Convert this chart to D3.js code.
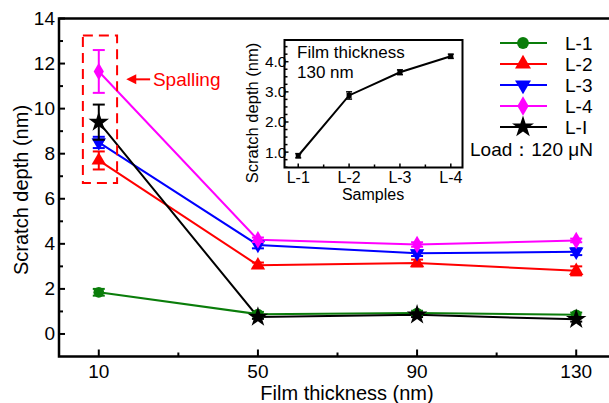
<!DOCTYPE html>
<html>
<head>
<meta charset="utf-8">
<script src="https://cdn.jsdelivr.net/npm/d3@7"></script>
<style>
  body { margin: 0; background: #fff; }
  svg { display: block; font-family: "Liberation Sans", Arial, sans-serif; }
</style>
</head>
<body>
<svg width="609" height="403"></svg>
<script>
const svg = d3.select("svg");

// data
const thickness = [10, 50, 90, 130];
const seriesNames = ["L-1", "L-2", "L-3", "L-4", "L-I"];
const L1 = [1.85, 0.88, 0.93, 0.85];
const L1err = [0.15, 0.1, 0.1, 0.1];
const L2 = [7.7, 3.05, 3.15, 2.8];
const L2err = [0.4, 0.12, 0.15, 0.2];
const L3 = [8.5, 3.95, 3.58, 3.65];
const L3err = [0.25, 0.15, 0.12, 0.15];
const L4 = [11.65, 4.18, 3.97, 4.15];
const L4err = [0.95, 0.1, 0.1, 0.08];
const LI = [9.4, 0.75, 0.85, 0.65];
const LIerr = [0.78, 0.08, 0.1, 0.1];
const xTicks = [10, 50, 90, 130];
const yTicks = [0, 2, 4, 6, 8, 10, 12, 14];

const insetSamples = ["L-1", "L-2", "L-3", "L-4"];
const insetValues = [0.88, 2.88, 3.65, 4.18];
const insetErr = [0.07, 0.12, 0.08, 0.07];
const insetYTicks = [1.0, 2.0, 3.0, 4.0];

const colors = ["#0a7d0a", "#ff0000", "#0000ff", "#ff00ff", "#000000"];
const symbols = [d3.symbolCircle, d3.symbolTriangle, "down", d3.symbolDiamond, d3.symbolStar];

const series = [L1, L2, L3, L4, LI].map((vals, i) => ({
  name: seriesNames[i],
  color: colors[i],
  sym: symbols[i],
  pts: vals.map((v, j) => ({ x: thickness[j], y: v, e: [L1err, L2err, L3err, L4err, LIerr][i][j] }))
}));

// scales
const x = d3.scaleLinear().domain([0, 140]).range([59, 616]);
const y = d3.scaleLinear().domain([-1, 14]).range([356.5, 18.5]);

function symPath(s, size) {
  if (s === "down") return d3.symbol(d3.symbolTriangle, size)();
  return d3.symbol(s, size)();
}
function symTransform(s, px, py) {
  return s === "down" ? `translate(${px},${py}) rotate(180)` : `translate(${px},${py})`;
}

// frame
svg.append("rect")
  .attr("x", x(0)).attr("y", y(14))
  .attr("width", x(140) - x(0)).attr("height", y(-1) - y(14))
  .attr("fill", "none").attr("stroke", "#000").attr("stroke-width", 2.5);

// y axis ticks (inward)
const yMinor = d3.range(1, 14, 2);
svg.selectAll(".ytick").data(yTicks).enter().append("line")
  .attr("x1", x(0)).attr("x2", x(0) + 6)
  .attr("y1", d => y(d)).attr("y2", d => y(d))
  .attr("stroke", "#000").attr("stroke-width", 2);
svg.selectAll(".ytickm").data(yMinor).enter().append("line")
  .attr("x1", x(0)).attr("x2", x(0) + 4)
  .attr("y1", d => y(d)).attr("y2", d => y(d))
  .attr("stroke", "#000").attr("stroke-width", 2);
svg.selectAll(".ylab").data(yTicks).enter().append("text")
  .attr("x", x(0) - 4).attr("y", d => y(d) + 6.5)
  .attr("text-anchor", "end").attr("font-size", 19).text(d => d);

// x axis ticks (inward)
svg.selectAll(".xtick").data(xTicks).enter().append("line")
  .attr("x1", d => x(d)).attr("x2", d => x(d))
  .attr("y1", y(-1)).attr("y2", y(-1) - 7)
  .attr("stroke", "#000").attr("stroke-width", 2);
svg.selectAll(".xtickm").data([30, 70, 110]).enter().append("line")
  .attr("x1", d => x(d)).attr("x2", d => x(d))
  .attr("y1", y(-1)).attr("y2", y(-1) - 4)
  .attr("stroke", "#000").attr("stroke-width", 2);
svg.selectAll(".xlab").data(xTicks).enter().append("text")
  .attr("x", d => x(d)).attr("y", y(-1) + 21)
  .attr("text-anchor", "middle").attr("font-size", 19).text(d => d);

// axis titles
svg.append("text")
  .attr("transform", `translate(28,${190}) rotate(-90)`)
  .attr("text-anchor", "middle").attr("font-size", 20)
  .text("Scratch depth (nm)");
svg.append("text")
  .attr("x", 347).attr("y", 400)
  .attr("text-anchor", "middle").attr("font-size", 20)
  .text("Film thickness (nm)");

// series
const line = d3.line().x(d => x(d.x)).y(d => y(d.y));
series.forEach(s => {
  svg.append("path").datum(s.pts)
    .attr("d", line).attr("fill", "none")
    .attr("stroke", s.color).attr("stroke-width", 2);
});
series.forEach(s => {
  const g = svg.append("g").attr("stroke", s.color).attr("stroke-width", 2);
  s.pts.forEach(p => {
    g.append("line").attr("x1", x(p.x)).attr("x2", x(p.x))
      .attr("y1", y(p.y - p.e)).attr("y2", y(p.y + p.e));
    [p.y - p.e, p.y + p.e].forEach(v => {
      g.append("line").attr("x1", x(p.x) - 6).attr("x2", x(p.x) + 6)
        .attr("y1", y(v)).attr("y2", y(v));
    });
  });
  svg.selectAll(null).data(s.pts).enter().append("path")
    .attr("d", symPath(s.sym, s.sym === d3.symbolStar ? 130 : 90))
    .attr("transform", d => symTransform(s.sym, x(d.x), y(d.y)))
    .attr("fill", s.color);
});

// spalling annotation
svg.append("rect")
  .attr("x", x(6)).attr("y", y(13.25))
  .attr("width", x(14.6) - x(6)).attr("height", y(6.7) - y(13.25))
  .attr("fill", "none").attr("stroke", "#ff0000").attr("stroke-width", 2)
  .attr("stroke-dasharray", "10,6");
svg.append("line")
  .attr("x1", x(16.9) + 8).attr("x2", x(22.9))
  .attr("y1", y(11.3)).attr("y2", y(11.3))
  .attr("stroke", "#ff0000").attr("stroke-width", 2);
svg.append("path")
  .attr("d", `M${x(16.9)},${y(11.3)} l10,-5 l0,10 z`)
  .attr("fill", "#ff0000");
svg.append("text")
  .attr("x", x(23.6)).attr("y", y(11.3) + 7)
  .attr("font-size", 19).attr("fill", "#ff0000").text("Spalling");

// legend
const legend = svg.append("g");
series.forEach((s, i) => {
  const ly = 43 + i * 21;
  legend.append("line").attr("x1", 500).attr("x2", 547)
    .attr("y1", ly).attr("y2", ly).attr("stroke", s.color).attr("stroke-width", 2);
  legend.append("path")
    .attr("d", symPath(s.sym, s.sym === d3.symbolStar ? 150 : 110))
    .attr("transform", symTransform(s.sym, 523, ly))
    .attr("fill", s.color);
  legend.append("text").attr("x", 565).attr("y", ly + 6.5)
    .attr("font-size", 19).text(s.name);
});
legend.append("text").attr("x", 470).attr("y", 156)
  .attr("font-size", 19).text("Load：120 μN");

// inset
const ix = d3.scaleLinear().domain([0.73, 4.23]).range([284.5, 462.5]);
const iy = d3.scaleLinear().domain([0.49, 4.72]).range([167.5, 40]);
const inset = svg.append("g");
inset.append("rect")
  .attr("x", ix(0.73)).attr("y", iy(4.72))
  .attr("width", ix(4.23) - ix(0.73)).attr("height", iy(0.49) - iy(4.72))
  .attr("fill", "#fff").attr("stroke", "#000").attr("stroke-width", 2);
const iyMinor = d3.range(0.5, 4.75, 0.25).filter(v => Math.abs(v - Math.round(v)) > 0.01);
inset.selectAll(".iyt").data(insetYTicks).enter().append("line")
  .attr("x1", ix(0.73)).attr("x2", ix(0.73) + 4)
  .attr("y1", d => iy(d)).attr("y2", d => iy(d))
  .attr("stroke", "#000").attr("stroke-width", 1.5);
inset.selectAll(".iytm").data(iyMinor).enter().append("line")
  .attr("x1", ix(0.73)).attr("x2", ix(0.73) + 3)
  .attr("y1", d => iy(d)).attr("y2", d => iy(d))
  .attr("stroke", "#000").attr("stroke-width", 1.5);
inset.selectAll(".iyl").data(insetYTicks).enter().append("text")
  .attr("x", ix(0.73) + 2).attr("y", d => iy(d) + 5.5)
  .attr("text-anchor", "end").attr("font-size", 15.5).text(d => d.toFixed(1));
inset.selectAll(".ixt").data([1, 2, 3, 4]).enter().append("line")
  .attr("x1", d => ix(d)).attr("x2", d => ix(d))
  .attr("y1", iy(0.49)).attr("y2", iy(0.49) - 4)
  .attr("stroke", "#000").attr("stroke-width", 1.5);
inset.selectAll(".ixtm").data([1.5, 2.5, 3.5]).enter().append("line")
  .attr("x1", d => ix(d)).attr("x2", d => ix(d))
  .attr("y1", iy(0.49)).attr("y2", iy(0.49) - 3)
  .attr("stroke", "#000").attr("stroke-width", 1.5);
inset.selectAll(".ixl").data(insetSamples).enter().append("text")
  .attr("x", (d, i) => ix(i + 1)).attr("y", iy(0.49) + 15)
  .attr("text-anchor", "middle").attr("font-size", 16).text(d => d);
inset.append("text").attr("x", 373).attr("y", 200)
  .attr("text-anchor", "middle").attr("font-size", 16).text("Samples");
inset.append("text")
  .attr("transform", `translate(258,113) rotate(-90)`)
  .attr("text-anchor", "middle").attr("font-size", 16.5).text("Scratch depth (nm)");
inset.append("text").attr("x", 297).attr("y", 58).attr("font-size", 17).text("Film thickness");
inset.append("text").attr("x", 297).attr("y", 78).attr("font-size", 17).text("130 nm");

const ipts = insetValues.map((v, i) => ({ i: i + 1, v, e: insetErr[i] }));
inset.append("path").datum(ipts)
  .attr("d", d3.line().x(d => ix(d.i)).y(d => iy(d.v)))
  .attr("fill", "none").attr("stroke", "#000").attr("stroke-width", 2);
ipts.forEach(p => {
  inset.append("line").attr("x1", ix(p.i)).attr("x2", ix(p.i))
    .attr("y1", iy(p.v - p.e)).attr("y2", iy(p.v + p.e))
    .attr("stroke", "#000").attr("stroke-width", 1.5);
  [p.v - p.e, p.v + p.e].forEach(v => {
    inset.append("line").attr("x1", ix(p.i) - 3).attr("x2", ix(p.i) + 3)
      .attr("y1", iy(v)).attr("y2", iy(v)).attr("stroke", "#000").attr("stroke-width", 1.5);
  });
  inset.append("rect").attr("x", ix(p.i) - 2.5).attr("y", iy(p.v) - 2.5)
    .attr("width", 5).attr("height", 5).attr("fill", "#000");
});
</script>
</body>
</html>
